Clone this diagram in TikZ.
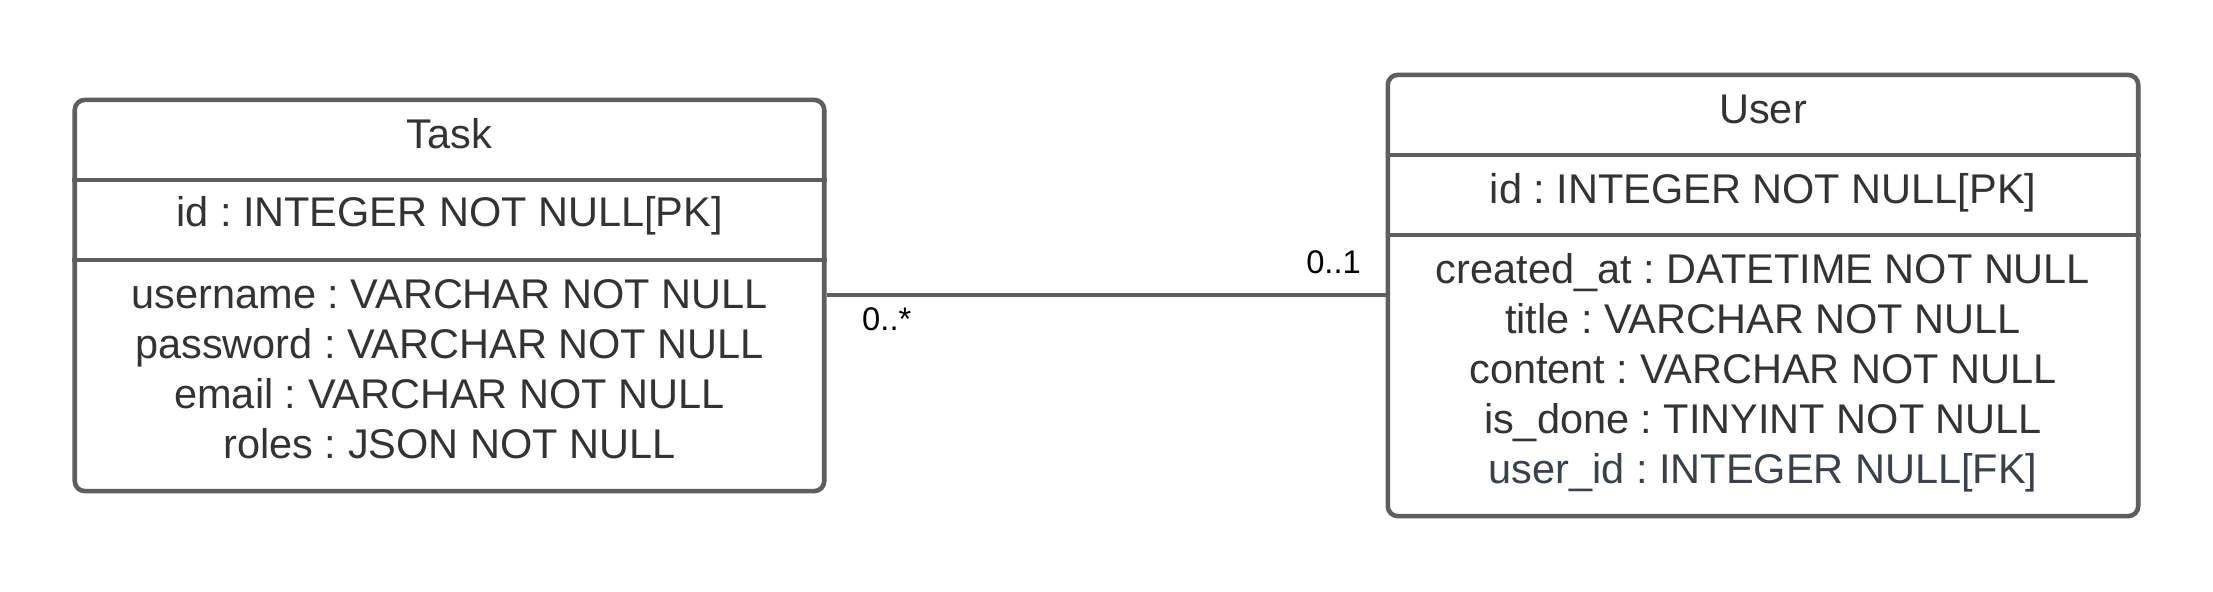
\documentclass[tikz,border=0pt]{standalone}
\usepackage{fontspec}
\setmainfont{Liberation Sans}
\usetikzlibrary{positioning,calc}
\definecolor{framegray}{HTML}{5E5E5E}
\definecolor{textgray}{HTML}{333333}
\definecolor{fkgray}{HTML}{3A414A}
\tikzset{
  entity/.style={draw=framegray, line width=1.3pt, rounded corners=0.1cm, fill=white},
  divider/.style={draw=framegray, line width=1.3pt},
  field/.style={text=textgray, font=\fontsize{11.8}{14}\selectfont\frenchspacing, inner sep=0pt, text height=0.72em, text depth=0pt},
  link/.style={draw=framegray, line width=0.95pt},
  mult/.style={text=black, font=\fontsize{9.3}{11}\selectfont, inner sep=0pt}
}

\begin{document}
\begin{tikzpicture}[x=0.01cm, y=-0.01cm]
    \useasboundingbox (0,0) rectangle (2213,591);

    % Task entity
    \node[entity, minimum width=7.49cm, minimum height=3.91cm] (task) at (449.5,295.5) {};
    \draw[divider] (task.west |- 0,180) -- (task.east |- 0,180);
    \draw[divider] (task.west |- 0,260) -- (task.east |- 0,260);
    \node[field] (task-name) at (task.center |- 0,136) {Task};
    \node[field] (task-pk) at (task.center |- 0,214) {id : INTEGER NOT NULL[PK]};
    \foreach \txt [count=\i] in {username : VARCHAR NOT NULL, password : VARCHAR NOT NULL,
        email : VARCHAR NOT NULL, roles : JSON NOT NULL}
        \node[field] (task-f\i) at (task.center |- 0,246+50*\i) {\txt};

    % User entity
    \node[entity, minimum width=7.50cm, minimum height=4.41cm] (user) at (1763,295.5) {};
    \draw[divider] (user.west |- 0,155) -- (user.east |- 0,155);
    \draw[divider] (user.west |- 0,235) -- (user.east |- 0,235);
    \node[field] (user-name) at (user.center |- 0,111) {User};
    \node[field] (user-pk) at (user.center |- 0,191) {id : INTEGER NOT NULL[PK]};
    \foreach \txt/\col [count=\i] in {created\_at : DATETIME NOT NULL/textgray,
        title : VARCHAR NOT NULL/textgray, content : VARCHAR NOT NULL/textgray,
        is\_done : TINYINT NOT NULL/textgray, user\_id : INTEGER NULL[FK]/fkgray}
        \node[field, text=\col] (user-f\i) at (user.center |- 0,221+50*\i) {\txt};

    % Relation
    \coordinate (rel) at (0,295);
    \coordinate (task-end) at (task.east |- rel);
    \coordinate (user-end) at (user.west |- rel);
    \draw[link] (task-end) -- (user-end);
    \node[mult, below right=0.12cm and 0.35cm of task-end] (mult-task) {0..*};
    \node[mult, above left=0.2cm and 0.24cm of user-end] (mult-user) {0..1};
\end{tikzpicture}
\end{document}
